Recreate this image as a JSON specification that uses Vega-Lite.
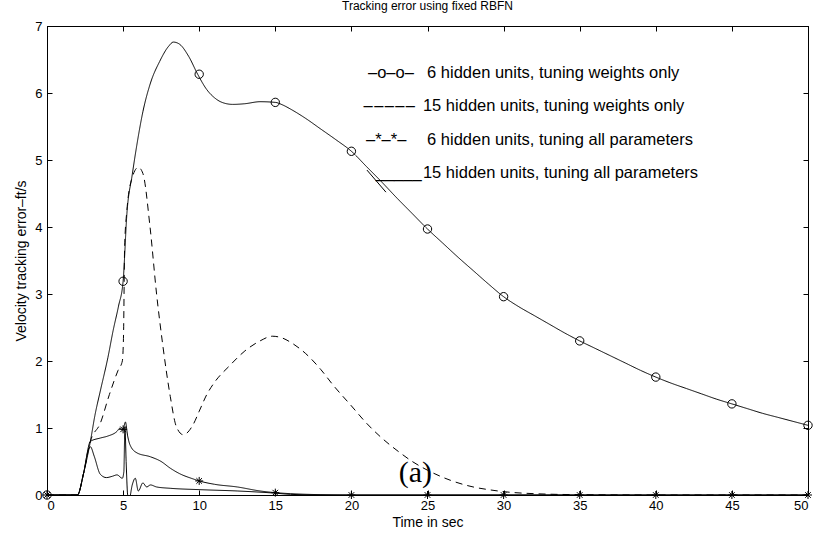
{
  "$schema": "https://vega.github.io/schema/vega-lite/v6.json",
  "autosize": {"type": "none"},
  "padding": {"left": 47, "top": 26, "right": 14, "bottom": 40},
  "width": 761,
  "height": 469,
  "background": "white",
  "config": {
    "font": "Liberation Sans",
    "view": {"stroke": "black", "strokeWidth": 1},
    "axis": {"grid": false, "domainColor": "black", "tickColor": "black", "labelColor": "black", "titleColor": "black", "labelFont": "Liberation Sans", "titleFont": "Liberation Sans", "titleFontWeight": "normal", "labelFontSize": 13, "titleFontSize": 14}
  },
  "title": {"text": "Tracking error using fixed RBFN", "fontSize": 12, "fontWeight": "normal", "font": "Liberation Sans", "color": "black", "anchor": "middle", "offset": 7},
  "datasets": {
    "curves": [
      {"s": "A", "t": 0, "v": 0}, {"s": "A", "t": 1, "v": 0}, {"s": "A", "t": 2, "v": 0}, {"s": "A", "t": 2.4, "v": 0.32}, {"s": "A", "t": 2.85, "v": 0.8}, {"s": "A", "t": 3.15, "v": 1.19}, {"s": "A", "t": 3.5, "v": 1.55}, {"s": "A", "t": 4, "v": 2.05}, {"s": "A", "t": 4.35, "v": 2.46}, {"s": "A", "t": 4.7, "v": 2.82}, {"s": "A", "t": 5, "v": 3.19}, {"s": "A", "t": 5.25, "v": 4.2}, {"s": "A", "t": 5.6, "v": 4.78}, {"s": "A", "t": 5.9, "v": 5.22}, {"s": "A", "t": 6.3, "v": 5.72}, {"s": "A", "t": 6.8, "v": 6.15}, {"s": "A", "t": 7.4, "v": 6.47}, {"s": "A", "t": 8, "v": 6.7}, {"s": "A", "t": 8.3, "v": 6.76}, {"s": "A", "t": 8.7, "v": 6.73}, {"s": "A", "t": 9.3, "v": 6.55}, {"s": "A", "t": 9.9, "v": 6.28}, {"s": "A", "t": 10.5, "v": 6.05}, {"s": "A", "t": 11, "v": 5.93}, {"s": "A", "t": 11.5, "v": 5.86}, {"s": "A", "t": 12.2, "v": 5.83}, {"s": "A", "t": 13, "v": 5.84}, {"s": "A", "t": 14, "v": 5.87}, {"s": "A", "t": 15, "v": 5.86}, {"s": "A", "t": 15.5, "v": 5.82}, {"s": "A", "t": 16, "v": 5.76}, {"s": "A", "t": 17, "v": 5.62}, {"s": "A", "t": 18, "v": 5.46}, {"s": "A", "t": 19, "v": 5.3}, {"s": "A", "t": 20, "v": 5.13}, {"s": "A", "t": 21, "v": 4.9}, {"s": "A", "t": 22, "v": 4.67}, {"s": "A", "t": 23, "v": 4.43}, {"s": "A", "t": 24, "v": 4.2}, {"s": "A", "t": 25, "v": 3.97}, {"s": "A", "t": 26, "v": 3.76}, {"s": "A", "t": 27, "v": 3.55}, {"s": "A", "t": 28, "v": 3.35}, {"s": "A", "t": 29, "v": 3.15}, {"s": "A", "t": 30, "v": 2.96}, {"s": "A", "t": 31, "v": 2.81}, {"s": "A", "t": 32, "v": 2.68}, {"s": "A", "t": 33, "v": 2.55}, {"s": "A", "t": 34, "v": 2.42}, {"s": "A", "t": 35, "v": 2.3}, {"s": "A", "t": 36, "v": 2.19}, {"s": "A", "t": 37, "v": 2.08}, {"s": "A", "t": 38, "v": 1.97}, {"s": "A", "t": 39, "v": 1.86}, {"s": "A", "t": 40, "v": 1.76}, {"s": "A", "t": 41, "v": 1.67}, {"s": "A", "t": 42, "v": 1.59}, {"s": "A", "t": 43, "v": 1.51}, {"s": "A", "t": 44, "v": 1.43}, {"s": "A", "t": 45, "v": 1.36}, {"s": "A", "t": 46, "v": 1.29}, {"s": "A", "t": 47, "v": 1.22}, {"s": "A", "t": 48, "v": 1.16}, {"s": "A", "t": 49, "v": 1.1}, {"s": "A", "t": 50, "v": 1.04},
      {"s": "B", "t": 0, "v": 0}, {"s": "B", "t": 2, "v": 0}, {"s": "B", "t": 2.4, "v": 0.32}, {"s": "B", "t": 2.85, "v": 0.8}, {"s": "B", "t": 3.5, "v": 1.07}, {"s": "B", "t": 4.1, "v": 1.5}, {"s": "B", "t": 4.67, "v": 1.86}, {"s": "B", "t": 4.95, "v": 2.0}, {"s": "B", "t": 5.03, "v": 2.4}, {"s": "B", "t": 5.1, "v": 3.7}, {"s": "B", "t": 5.25, "v": 4.25}, {"s": "B", "t": 5.6, "v": 4.74}, {"s": "B", "t": 6, "v": 4.89}, {"s": "B", "t": 6.3, "v": 4.8}, {"s": "B", "t": 6.77, "v": 4.0}, {"s": "B", "t": 7.2, "v": 3.0}, {"s": "B", "t": 7.6, "v": 2.25}, {"s": "B", "t": 8.1, "v": 1.47}, {"s": "B", "t": 8.5, "v": 1.02}, {"s": "B", "t": 8.95, "v": 0.9}, {"s": "B", "t": 9.6, "v": 1.05}, {"s": "B", "t": 10, "v": 1.25}, {"s": "B", "t": 10.5, "v": 1.5}, {"s": "B", "t": 11, "v": 1.68}, {"s": "B", "t": 12, "v": 1.93}, {"s": "B", "t": 13, "v": 2.15}, {"s": "B", "t": 14, "v": 2.3}, {"s": "B", "t": 14.8, "v": 2.37}, {"s": "B", "t": 15.5, "v": 2.34}, {"s": "B", "t": 16, "v": 2.28}, {"s": "B", "t": 17, "v": 2.11}, {"s": "B", "t": 18, "v": 1.87}, {"s": "B", "t": 18.8, "v": 1.64}, {"s": "B", "t": 20, "v": 1.33}, {"s": "B", "t": 21, "v": 1.07}, {"s": "B", "t": 22, "v": 0.85}, {"s": "B", "t": 23.2, "v": 0.63}, {"s": "B", "t": 24, "v": 0.5}, {"s": "B", "t": 25, "v": 0.37}, {"s": "B", "t": 26.5, "v": 0.22}, {"s": "B", "t": 28, "v": 0.12}, {"s": "B", "t": 29, "v": 0.08}, {"s": "B", "t": 30, "v": 0.05}, {"s": "B", "t": 32, "v": 0.02}, {"s": "B", "t": 35, "v": 0.005}, {"s": "B", "t": 40, "v": 0}, {"s": "B", "t": 50, "v": 0},
      {"s": "C", "t": 0, "v": 0}, {"s": "C", "t": 2, "v": 0}, {"s": "C", "t": 2.4, "v": 0.32}, {"s": "C", "t": 2.85, "v": 0.8}, {"s": "C", "t": 3.5, "v": 0.85}, {"s": "C", "t": 4, "v": 0.88}, {"s": "C", "t": 4.6, "v": 0.95}, {"s": "C", "t": 4.8, "v": 1.0}, {"s": "C", "t": 4.95, "v": 0.97}, {"s": "C", "t": 5.05, "v": 1.02}, {"s": "C", "t": 5.15, "v": 1.09}, {"s": "C", "t": 5.3, "v": 0.88}, {"s": "C", "t": 5.45, "v": 0.75}, {"s": "C", "t": 5.9, "v": 0.63}, {"s": "C", "t": 6.8, "v": 0.57}, {"s": "C", "t": 7.5, "v": 0.5}, {"s": "C", "t": 8.1, "v": 0.4}, {"s": "C", "t": 8.7, "v": 0.32}, {"s": "C", "t": 9.6, "v": 0.24}, {"s": "C", "t": 10, "v": 0.21}, {"s": "C", "t": 11, "v": 0.16}, {"s": "C", "t": 12.5, "v": 0.12}, {"s": "C", "t": 14, "v": 0.06}, {"s": "C", "t": 15, "v": 0.035}, {"s": "C", "t": 16, "v": 0.02}, {"s": "C", "t": 18, "v": 0.005}, {"s": "C", "t": 20, "v": 0}, {"s": "C", "t": 50, "v": 0},
      {"s": "D", "t": 0, "v": 0}, {"s": "D", "t": 2, "v": 0}, {"s": "D", "t": 2.4, "v": 0.32}, {"s": "D", "t": 2.7, "v": 0.66}, {"s": "D", "t": 2.85, "v": 0.72}, {"s": "D", "t": 3.1, "v": 0.58}, {"s": "D", "t": 3.5, "v": 0.31}, {"s": "D", "t": 3.9, "v": 0.26}, {"s": "D", "t": 4.3, "v": 0.28}, {"s": "D", "t": 4.6, "v": 0.3}, {"s": "D", "t": 4.95, "v": 0.25}, {"s": "D", "t": 5.05, "v": 0.35}, {"s": "D", "t": 5.12, "v": 1.02}, {"s": "D", "t": 5.2, "v": 0.5}, {"s": "D", "t": 5.3, "v": 0.0}, {"s": "D", "t": 5.4, "v": -0.06}, {"s": "D", "t": 5.6, "v": 0.15}, {"s": "D", "t": 5.8, "v": 0.25}, {"s": "D", "t": 6.0, "v": 0.06}, {"s": "D", "t": 6.3, "v": 0.18}, {"s": "D", "t": 6.55, "v": 0.12}, {"s": "D", "t": 6.8, "v": 0.15}, {"s": "D", "t": 7.2, "v": 0.12}, {"s": "D", "t": 8.1, "v": 0.1}, {"s": "D", "t": 10, "v": 0.08}, {"s": "D", "t": 12.5, "v": 0.06}, {"s": "D", "t": 14.85, "v": 0.03}, {"s": "D", "t": 16, "v": 0.01}, {"s": "D", "t": 18, "v": 0}, {"s": "D", "t": 50, "v": 0}
    ],
    "circles": [
      {"t": 0, "v": 0}, {"t": 5, "v": 3.19}, {"t": 10, "v": 6.28}, {"t": 15, "v": 5.86}, {"t": 20, "v": 5.13}, {"t": 25, "v": 3.97}, {"t": 30, "v": 2.96}, {"t": 35, "v": 2.3}, {"t": 40, "v": 1.76}, {"t": 45, "v": 1.36}, {"t": 50, "v": 1.04}
    ],
    "stars": [
      {"t": 0, "v": 0}, {"t": 5, "v": 0.98}, {"t": 10, "v": 0.21}, {"t": 15, "v": 0.035}, {"t": 20, "v": 0}, {"t": 25, "v": 0}, {"t": 30, "v": 0}, {"t": 35, "v": 0}, {"t": 40, "v": 0}, {"t": 45, "v": 0}, {"t": 50, "v": 0}
    ],
    "legend": [
      {"t": 21.09, "v": 6.3, "label": "–o–o–"},
      {"t": 20.8, "v": 5.81, "label": "\u2013\u200a\u2013\u200a\u2013\u200a\u2013\u200a\u2013"},
      {"t": 20.96, "v": 5.3, "label": "–*–*–"},
      {"t": 21.6, "v": 4.81, "label": "_____"},
      {"t": 24.97, "v": 6.3, "label": "6 hidden units, tuning weights only"},
      {"t": 24.7, "v": 5.81, "label": "15 hidden units, tuning weights only"},
      {"t": 24.97, "v": 5.3, "label": "6 hidden units, tuning all parameters"},
      {"t": 24.7, "v": 4.81, "label": "15 hidden units, tuning all parameters"}
    ],
    "note": [{"t": 24.2, "v": 0.33, "label": "(a)"}],
    "pointer": [{"t": 21.02, "v": 4.85, "t2": 22.27, "v2": 4.52}]
  },
  "resolve": {"axis": {"x": "independent", "y": "independent"}},
  "layer": [
    {
      "data": {"name": "curves"},
      "mark": {"type": "line", "interpolate": "monotone", "clip": true, "color": "black", "strokeWidth": 1},
      "encoding": {
        "x": {"field": "t", "type": "quantitative", "scale": {"domain": [0, 50], "nice": false}, "axis": {"orient": "bottom", "values": [0, 5, 10, 15, 20, 25, 30, 35, 40, 45, 50], "tickSize": -5, "labelPadding": 9, "title": "Time in sec", "titlePadding": 3}},
        "y": {"field": "v", "type": "quantitative", "scale": {"domain": [0, 7], "nice": false}, "axis": {"orient": "left", "values": [0, 1, 2, 3, 4, 5, 6, 7], "tickSize": -5, "labelPadding": 10, "title": "Velocity tracking error–ft/s", "titlePadding": 6}},
        "detail": {"field": "s"},
        "strokeDash": {"field": "s", "type": "nominal", "scale": {"domain": ["A", "B", "C", "D"], "range": [[1, 0], [7, 5], [1, 0], [1, 0]]}, "legend": null}
      }
    },
    {
      "data": {"name": "circles"},
      "mark": {"type": "point", "shape": "circle", "filled": false, "color": "black", "size": 70, "strokeWidth": 1, "opacity": 1},
      "encoding": {
        "x": {"field": "t", "type": "quantitative", "axis": {"orient": "top", "values": [0, 5, 10, 15, 20, 25, 30, 35, 40, 45, 50], "tickSize": -5, "labels": false, "title": null}},
        "y": {"field": "v", "type": "quantitative", "axis": {"orient": "right", "values": [0, 1, 2, 3, 4, 5, 6, 7], "tickSize": -5, "labels": false, "title": null}}
      }
    },
    {
      "data": {"name": "stars"},
      "mark": {"type": "point", "shape": "M-1,0L1,0M0,-1L0,1M-0.7,-0.7L0.7,0.7M-0.7,0.7L0.7,-0.7", "filled": false, "color": "black", "size": 64, "strokeWidth": 1, "opacity": 1},
      "encoding": {
        "x": {"field": "t", "type": "quantitative", "axis": null},
        "y": {"field": "v", "type": "quantitative", "axis": null}
      }
    },
    {
      "data": {"name": "legend"},
      "mark": {"type": "text", "align": "left", "baseline": "middle", "fontSize": 16.5, "font": "Liberation Sans", "color": "black"},
      "encoding": {
        "x": {"field": "t", "type": "quantitative", "axis": null},
        "y": {"field": "v", "type": "quantitative", "axis": null},
        "text": {"field": "label"}
      }
    },
    {
      "data": {"name": "note"},
      "mark": {"type": "text", "align": "center", "baseline": "middle", "fontSize": 30, "font": "Liberation Serif", "color": "black"},
      "encoding": {
        "x": {"field": "t", "type": "quantitative", "axis": null},
        "y": {"field": "v", "type": "quantitative", "axis": null},
        "text": {"field": "label"}
      }
    },
    {
      "data": {"name": "pointer"},
      "mark": {"type": "rule", "color": "black", "strokeWidth": 1},
      "encoding": {
        "x": {"field": "t", "type": "quantitative", "axis": null},
        "y": {"field": "v", "type": "quantitative", "axis": null},
        "x2": {"field": "t2"},
        "y2": {"field": "v2"}
      }
    }
  ]
}
